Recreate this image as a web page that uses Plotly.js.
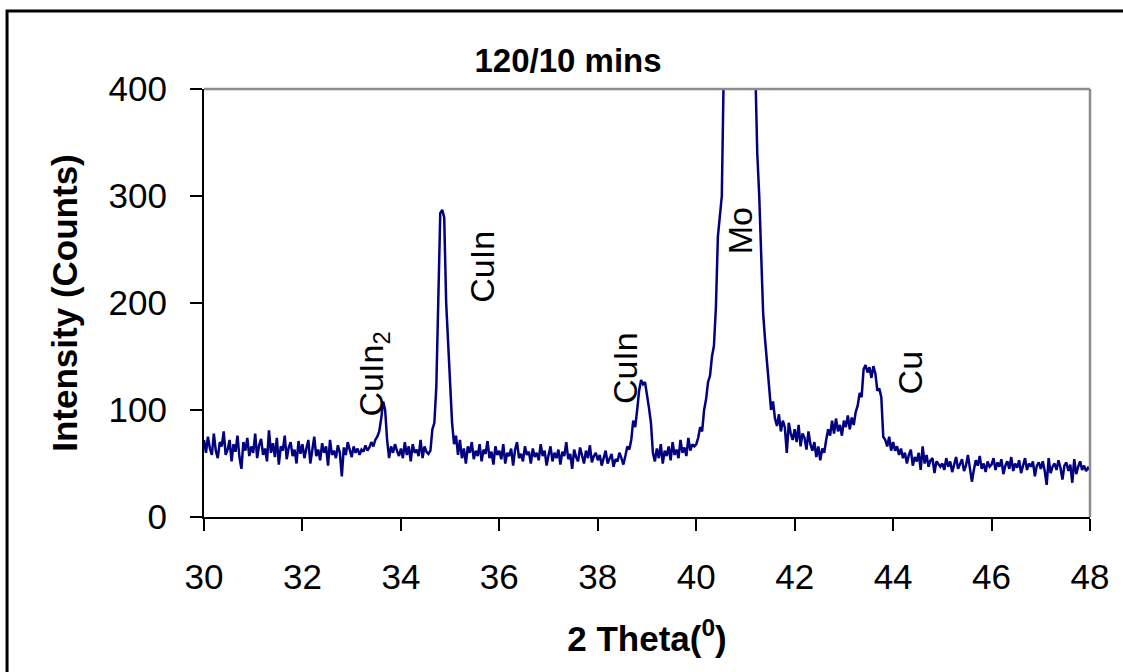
<!DOCTYPE html>
<html>
<head>
<meta charset="utf-8">
<script src="https://cdn.plot.ly/plotly-3.0.1.min.js"></script>
<style>
  html, body { margin: 0; padding: 0; background: #fff; }
  #chart { width: 1123px; height: 672px; }
</style>
</head>
<body>
<div id="chart"></div>
<script>
// Scan grid (2 theta, degrees)
const scanStart = 30;
const scanStep = 0.04;

// Intensity (counts), one value per 0.04 deg, 30.00 .. 48.00
const counts30 = [72, 60, 75, 64, 58, 78, 62, 55, 70, 66, 80, 58, 63, 72, 52, 68, 61, 76, 56, 45, 70, 62, 74, 57, 66];
const counts31 = [60, 78, 55, 67, 73, 58, 64, 52, 81, 60, 69, 56, 74, 49, 66, 62, 76, 54, 65, 70, 57, 63, 50, 71, 59];
const counts32 = [68, 55, 64, 72, 50, 61, 75, 57, 63, 53, 69, 60, 66, 48, 72, 58, 62, 55, 67, 60, 38, 65, 58, 70, 62];
const counts33 = [56, 66, 60, 64, 58, 63, 61, 67, 62, 65, 70, 66, 72, 75, 80, 92, 108, 100, 72, 55, 66, 60, 68, 62, 57];
const counts34 = [64, 55, 70, 58, 66, 52, 68, 60, 63, 57, 72, 55, 66, 61, 59, 62, 82, 88, 122, 196, 284, 287, 280, 200, 160];
const counts35 = [122, 88, 68, 76, 58, 72, 55, 64, 50, 66, 60, 70, 54, 62, 57, 68, 52, 63, 59, 71, 55, 61, 49, 66, 58];
const counts36 = [62, 54, 68, 50, 60, 57, 64, 48, 63, 70, 55, 59, 52, 66, 58, 61, 50, 64, 56, 60, 53, 68, 57, 62, 48];
const counts37 = [58, 66, 52, 60, 55, 63, 49, 61, 57, 70, 54, 59, 45, 63, 56, 52, 65, 58, 50, 62, 55, 67, 51, 57, 60];
const counts38 = [53, 58, 48, 56, 62, 50, 55, 59, 47, 54, 52, 60, 55, 49, 57, 66, 63, 72, 90, 84, 100, 118, 128, 124, 126];
const counts39 = [115, 102, 88, 60, 52, 64, 55, 68, 50, 62, 57, 66, 53, 70, 58, 63, 55, 72, 60, 65, 57, 74, 62, 68, 66];
const counts40 = [68, 74, 84, 80, 100, 110, 126, 132, 150, 160, 196, 262, 284, 300, 420, 600, 800, 950, 1050, 1100, 1150, 1180, 1150, 1120, 1080];
const counts41 = [1000, 900, 760, 620, 500, 420, 340, 300, 240, 190, 165, 140, 122, 100, 108, 92, 85, 96, 80, 90, 84, 60, 88, 78, 72];
const counts42 = [82, 70, 86, 66, 78, 74, 63, 80, 68, 62, 70, 56, 66, 53, 64, 60, 72, 82, 76, 90, 78, 92, 80, 86, 76];
const counts43 = [90, 84, 95, 82, 93, 86, 98, 104, 116, 112, 138, 142, 135, 140, 130, 141, 134, 118, 120, 112, 75, 72, 66, 75, 62];
const counts44 = [70, 62, 66, 58, 64, 55, 60, 50, 58, 63, 48, 56, 52, 60, 44, 66, 50, 58, 47, 53, 55, 41, 52, 49, 47];
const counts45 = [50, 44, 55, 47, 52, 42, 49, 56, 45, 50, 54, 43, 48, 58, 46, 33, 44, 53, 48, 57, 45, 50, 42, 52, 47];
const counts46 = [49, 55, 44, 51, 47, 54, 40, 48, 52, 45, 56, 43, 50, 46, 53, 41, 49, 55, 44, 50, 47, 52, 38, 48, 51];
const counts47 = [45, 52, 43, 30, 55, 41, 47, 50, 44, 53, 46, 35, 48, 51, 43, 49, 32, 54, 40, 47, 52, 44, 48, 43, 46];
const counts48 = [44];

// Peak labels
const peakLabels = ["CuIn<sub>2</sub>", "CuIn", "CuIn", "Mo", "Cu"];
const peakLabelX = [33.45, 35.63, 38.55, 40.89, 44.34];
const peakLabelY = [134, 234, 139, 267, 135];

const chartTitle = "120/10 mins";
const xTitle = "2 Theta(<sup>0</sup>)";
const yTitle = "Intensity (Counts)";

const intensity = [].concat(counts30, counts31, counts32, counts33, counts34, counts35,
  counts36, counts37, counts38, counts39, counts40, counts41, counts42, counts43,
  counts44, counts45, counts46, counts47, counts48);

const FONT = "Liberation Sans, Arial, Helvetica, sans-serif";

const trace = {
  type: "scatter",
  mode: "lines",
  x0: scanStart,
  dx: scanStep,
  y: intensity,
  line: { color: "#000080", width: 2.5 },
  hoverinfo: "x+y"
};

const annotations = peakLabels.map((t, i) => ({
  x: peakLabelX[i], y: peakLabelY[i], xref: "x", yref: "y",
  text: t, showarrow: false, textangle: -90,
  xanchor: "center", yanchor: "middle",
  font: { family: FONT, size: 34, color: "#000" }
}));

const layout = {
  width: 1123, height: 672,
  margin: { l: 204, r: 33, t: 89, b: 155, pad: 0 },
  paper_bgcolor: "#fff", plot_bgcolor: "#fff",
  showlegend: false,
  font: { family: FONT, color: "#000" },
  title: {
    text: "<b>" + chartTitle + "</b>",
    x: 568 / 1123, xanchor: "center", xref: "container",
    y: 1 - 60 / 672, yanchor: "middle", yref: "container",
    font: { family: FONT, size: 33, color: "#000" }
  },
  xaxis: {
    range: [30, 48], dtick: 2, tick0: 30,
    showgrid: false, zeroline: false,
    showline: true, linecolor: "#000", linewidth: 2,
    ticks: "outside", ticklen: 12, tickwidth: 2, tickcolor: "#000",
    tickfont: { family: FONT, size: 35, color: "#000" },
    ticklabelstandoff: 16,
    title: { text: "<b>" + xTitle + "</b>", font: { family: FONT, size: 35, color: "#000" }, standoff: 31 },
    automargin: false
  },
  yaxis: {
    range: [0, 400], dtick: 100, tick0: 0,
    showgrid: false, zeroline: false,
    showline: true, linecolor: "#000", linewidth: 2,
    ticks: "outside", ticklen: 12, tickwidth: 2, tickcolor: "#000",
    tickfont: { family: FONT, size: 35, color: "#000" },
    ticklabelstandoff: 16,
    title: { text: "<b>" + yTitle + "</b>", font: { family: FONT, size: 35, color: "#000" }, standoff: 20 },
    automargin: false
  },
  shapes: [
    { type: "line", xref: "paper", yref: "paper", x0: 0, x1: 1, y0: 1, y1: 1, line: { color: "#8c8c8c", width: 2.5 }, layer: "above" },
    { type: "line", xref: "paper", yref: "paper", x0: 1, x1: 1, y0: 0, y1: 1, line: { color: "#8c8c8c", width: 2.5 }, layer: "above" },
    { type: "rect", xref: "paper", yref: "paper", x0: -0.2223, x1: 1.0508, y0: -0.404, y1: 1.1822, line: { color: "#000", width: 3 }, fillcolor: "rgba(0,0,0,0)", layer: "above" }
  ],
  annotations: annotations
};

Plotly.newPlot("chart", [trace], layout, { displayModeBar: false, staticPlot: true });
</script>
</body>
</html>
